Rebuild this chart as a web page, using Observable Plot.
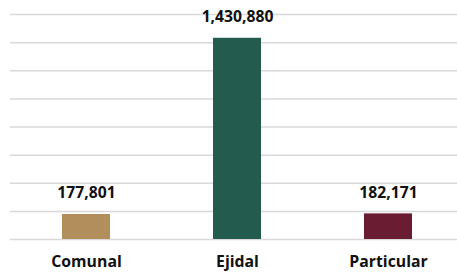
<!DOCTYPE html>
<html>
<head>
<meta charset="utf-8">
<script src="https://cdn.jsdelivr.net/npm/d3@7"></script>
<script src="https://cdn.jsdelivr.net/npm/@observablehq/plot@0.6"></script>
<style>
  html, body { margin: 0; padding: 0; background: #fff; }
  svg { display: block; }
</style>
</head>
<body>
<div id="chart"></div>
<script>
const categories = ["Comunal", "Ejidal", "Particular"];
const values = [177801, 1430880, 182171];
const colors = ["#B38E5D", "#235B4E", "#6A1C32"];
const yTicks = [0, 200000, 400000, 600000, 800000, 1000000, 1200000, 1400000, 1600000];

const data = categories.map((c, i) => ({category: c, value: values[i], color: colors[i]}));
const fmt = d3.format(",");

const chart = Plot.plot({
  width: 457,
  height: 272,
  marginTop: 14,
  marginBottom: 33,
  marginLeft: 10,
  marginRight: 0,
  style: {fontFamily: "'Open Sans', sans-serif", background: "#fff"},
  x: {domain: categories, paddingInner: 0.683, paddingOuter: 0.317, align: 0.54, label: null},
  y: {domain: [0, 1600000], ticks: yTicks, label: null},
  marks: [
    Plot.gridY(yTicks, {stroke: "#d9d9d9", strokeOpacity: 1, strokeWidth: 1.5}),
    Plot.barY(data, {x: "category", y: "value", fill: "color"}),
    Plot.text(data, {x: "category", y: "value", text: d => fmt(d.value), dy: -16, lineAnchor: "bottom", fontSize: 15.7, fontWeight: "bold", fill: "#111"}),
    Plot.axisX({tickSize: 0, tickPadding: 16, fontSize: 15.8, fontWeight: "bold", fill: "#111", label: null}),
    Plot.axisY({ticks: [], label: null})
  ]
});
document.getElementById("chart").appendChild(chart);
</script>
</body>
</html>
